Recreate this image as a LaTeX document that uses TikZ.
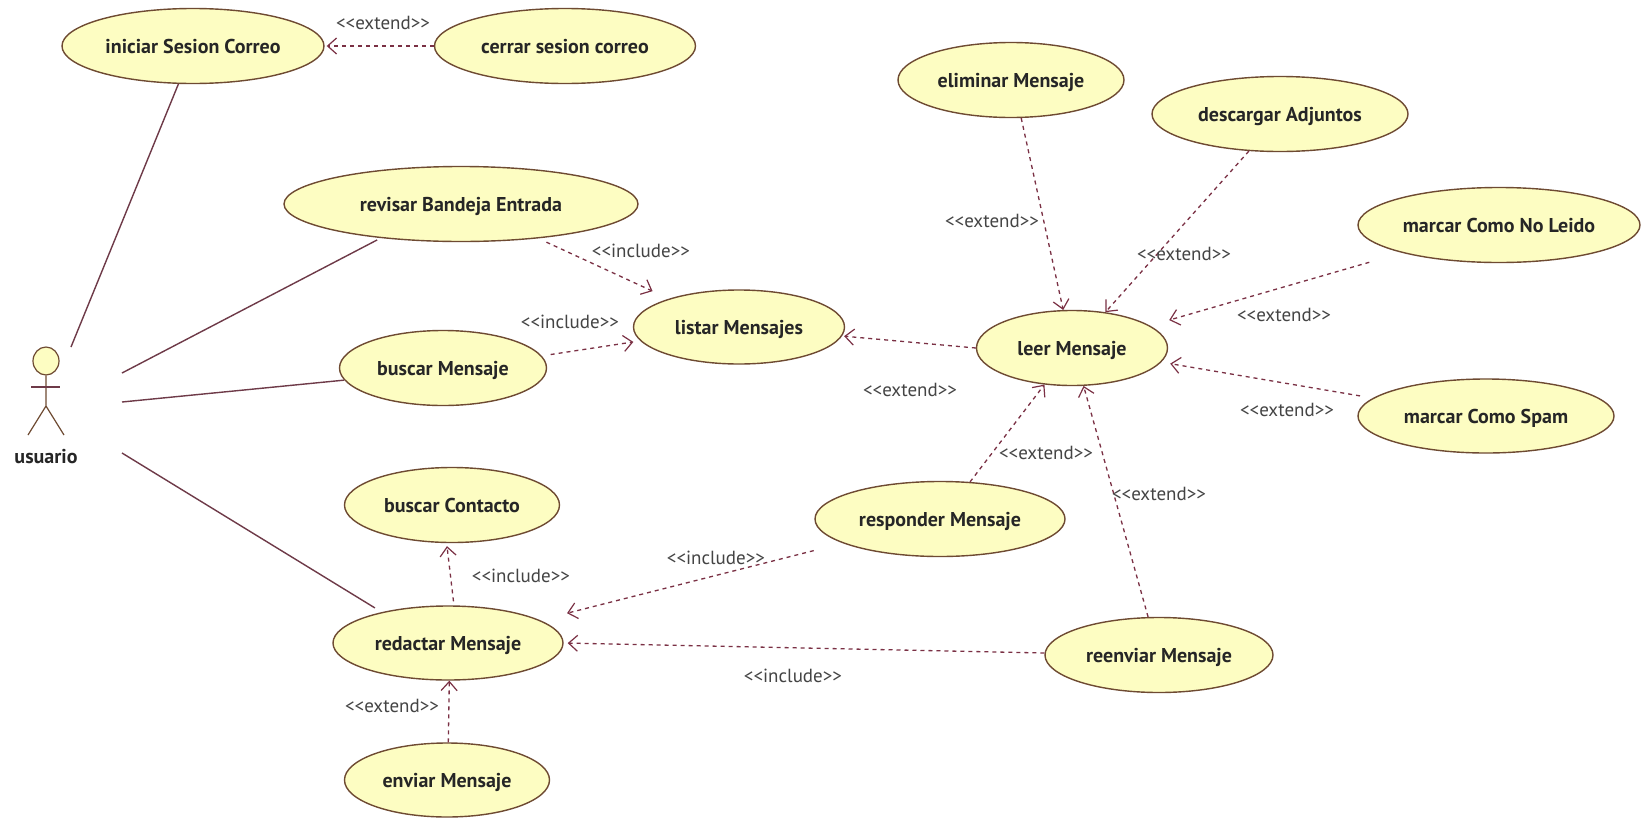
\documentclass[tikz,border=0pt]{standalone}
\usepackage{fontspec}
\setmainfont{PT Sans}
\usetikzlibrary{shapes.geometric,arrows.meta}
\definecolor{ucfill}{HTML}{FDFDC2}
\definecolor{ucline}{HTML}{6E4A32}
\definecolor{asline}{HTML}{6E3A48}
\definecolor{depline}{HTML}{7A3044}
\definecolor{stereo}{HTML}{444444}
\tikzset{
  usecase/.style={ellipse,draw=ucline,fill=ucfill,line width=1.4pt,inner xsep=-60pt,inner ysep=-12pt,text height=14pt,text depth=0pt,font=\bfseries\fontsize{20}{20}\selectfont,text=black!85},
  assoc/.style={draw=asline,line width=1.4pt},
  dep/.style={draw=depline,line width=1.3pt,dash pattern=on 4pt off 4pt,-{Straight Barb[length=9pt,width=16pt,line width=1.2pt]}},
  stereotype/.style={inner sep=0pt,text=stereo,font=\fontsize{19}{19}\selectfont}
}
\begin{document}
\begin{tikzpicture}[x=1pt,y=-1pt]
    \useasboundingbox[fill=white] (0,0) rectangle (1642,817);

    \node[usecase,minimum width=262pt,minimum height=75pt] (iniciar) at (193,46) {iniciar Sesion Correo};
    \node[usecase,minimum width=261pt,minimum height=75pt] (cerrar) at (565,46) {cerrar sesion correo};
    \node[usecase,minimum width=354pt,minimum height=75pt] (revisar) at (461,204) {revisar Bandeja Entrada};
    \node[usecase,minimum width=207pt,minimum height=75pt] (buscar) at (443,368) {buscar Mensaje};
    \node[usecase,minimum width=211pt,minimum height=74pt] (listar) at (739,327) {listar Mensajes};
    \node[usecase,minimum width=191pt,minimum height=75pt] (leer) at (1072,348) {leer Mensaje};
    \node[usecase,minimum width=226pt,minimum height=75pt] (eliminar) at (1011,80) {eliminar Mensaje};
    \node[usecase,minimum width=256pt,minimum height=75pt] (descargar) at (1280,114) {descargar Adjuntos};
    \node[usecase,minimum width=282pt,minimum height=75pt] (noleido) at (1499,225) {marcar Como No Leido};
    \node[usecase,minimum width=256pt,minimum height=74pt] (spam) at (1486,416) {marcar Como Spam};
    \node[usecase,minimum width=250pt,minimum height=75pt] (responder) at (940,519) {responder Mensaje};
    \node[usecase,minimum width=228pt,minimum height=75pt] (reenviar) at (1159,655) {reenviar Mensaje};
    \node[usecase,minimum width=215pt,minimum height=75pt] (contacto) at (452,505) {buscar Contacto};
    \node[usecase,minimum width=230pt,minimum height=74pt] (redactar) at (448,643) {redactar Mensaje};
    \node[usecase,minimum width=205pt,minimum height=74pt] (enviar) at (447,780) {enviar Mensaje};

    \node[ellipse,draw=ucline,fill=ucfill,line width=1.2pt,minimum width=26pt,minimum height=28pt,inner sep=0pt] (cabeza) at (46,361) {};
    \coordinate (cadera) at (46,406);
    \draw[ucline,line width=1.2pt]
      (cabeza.south)--(cadera)--(28,435)
      (cadera)--(64,435)
    ;
    \draw[asline,line width=1.6pt] (31,387)--(60,387);
    \node[inner sep=0pt,font=\bfseries\fontsize{20}{20}\selectfont,text=black!85] (usuario) at (46,457) {usuario};

    \coordinate (actorA) at (71,347);
    \coordinate (actorB) at (122,373);
    \coordinate (actorC) at (122,402);
    \coordinate (actorD) at (122,453);
    \draw[assoc] (actorA)--(iniciar.249);
    \draw[assoc,shorten >=4pt] (actorB)--(revisar.203);
    \draw[assoc] (actorC)--(buscar.187);
    \draw[assoc,shorten >=8pt] (actorD)--(redactar.155);

    \draw[dep,shorten >=2pt] (cerrar.180)--(iniciar.0);
    \draw[dep,shorten <=9pt,shorten >=18pt] (revisar.336)--(listar.158);
    \draw[dep,shorten <=9pt,shorten >=7pt] (buscar.7.5)--(listar.188);
    \draw[dep,shorten >=2pt] (leer.180)--(listar.355);
    \draw[dep] (eliminar.285)--(leer.103);
    \draw[dep] (descargar.230)--(leer.47);
    \draw[dep,shorten <=34pt,shorten >=20pt] (noleido.196.4)--(leer.16);
    \draw[dep,shorten <=13pt,shorten >=9pt] (spam.171.5)--(leer.351);
    \draw[dep] (responder.51.5)--(leer.233);
    \draw[dep] (reenviar.106)--(leer.287);
    \draw[dep,shorten <=30pt,shorten >=28pt] (responder.194.3)--(redactar.14.3);
    \draw[dep,shorten >=4pt] (reenviar.179)--(redactar.0);
    \draw[dep,shorten <=4pt,shorten >=3pt] (redactar.81)--(contacto.262);
    \draw[dep] (enviar.88)--(redactar.272);

    \node[stereotype] (s1) at (383,23) {<{}<extend>{}>};
    \node[stereotype] (s2) at (641,251) {<{}<include>{}>};
    \node[stereotype] (s3) at (570,322) {<{}<include>{}>};
    \node[stereotype] (s4) at (910,390) {<{}<extend>{}>};
    \node[stereotype] (s5) at (992,221) {<{}<extend>{}>};
    \node[stereotype] (s6) at (1184,254) {<{}<extend>{}>};
    \node[stereotype] (s7) at (1284,315) {<{}<extend>{}>};
    \node[stereotype] (s8) at (1287,410) {<{}<extend>{}>};
    \node[stereotype] (s9) at (1046,453) {<{}<extend>{}>};
    \node[stereotype] (s10) at (1159,494) {<{}<extend>{}>};
    \node[stereotype] (s11) at (521,576) {<{}<include>{}>};
    \node[stereotype] (s12) at (716,558) {<{}<include>{}>};
    \node[stereotype] (s13) at (793,676) {<{}<include>{}>};
    \node[stereotype] (s14) at (392,706) {<{}<extend>{}>};
  \end{tikzpicture}
\end{document}
